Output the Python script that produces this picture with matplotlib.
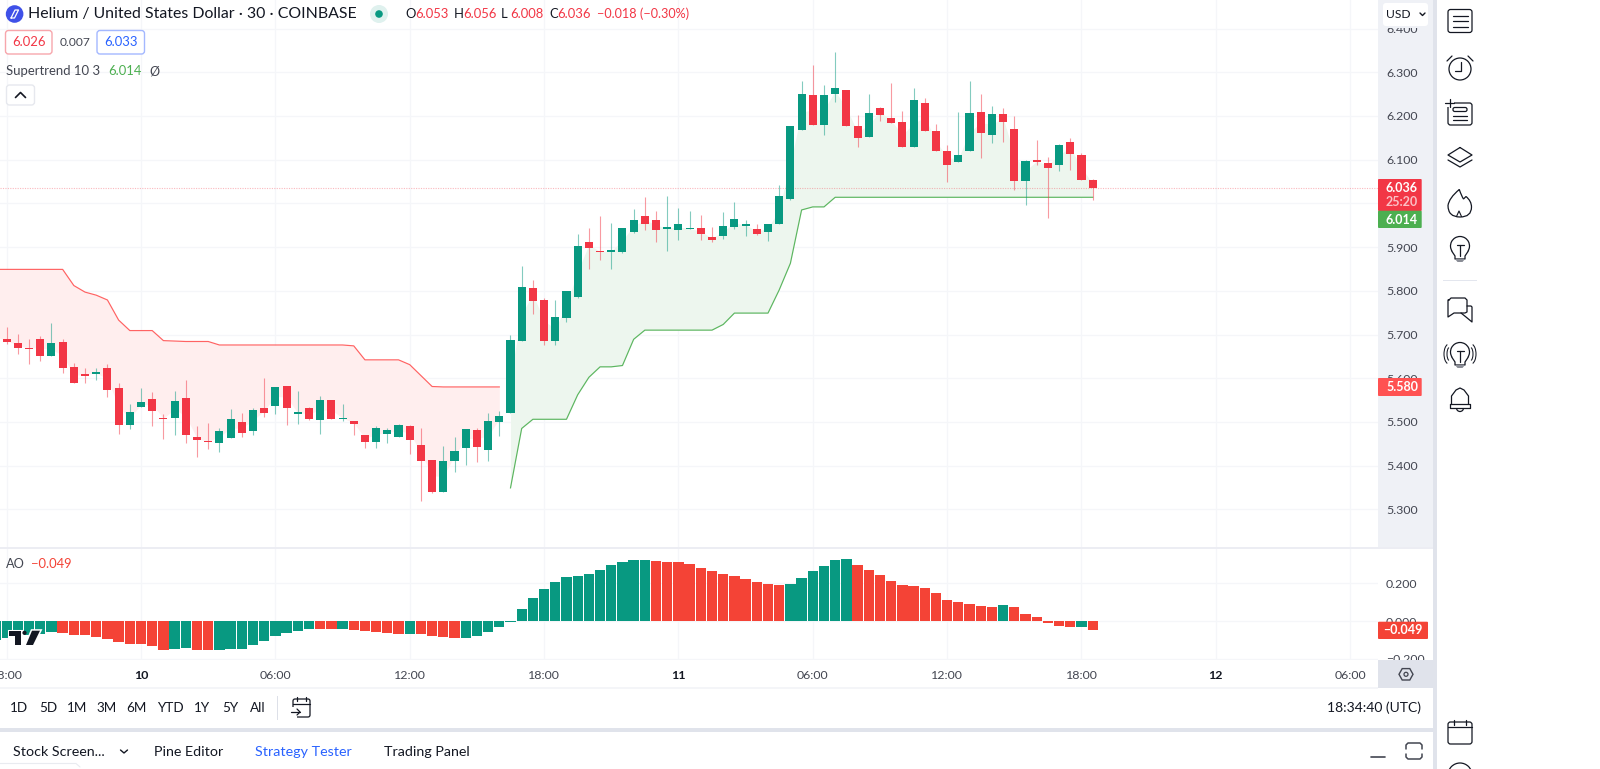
import numpy as np
import matplotlib
matplotlib.use("Agg")
import matplotlib.pyplot as plt
from matplotlib.patches import Rectangle, FancyBboxPatch, Circle, Polygon, Arc, PathPatch
from matplotlib.path import Path

plt.rcParams['font.family'] = ['Lato', 'DejaVu Sans']

# ---------- data (30-minute candles; the first candle lies just off the left edge) ----------
opens = [5.700,
         5.689,5.681,5.670,5.689,5.650,5.682,5.626,5.610,5.610,5.623,5.577,5.493,5.534,5.552,5.510,5.510,5.555,5.466,5.456,5.452,
         5.463,5.499,5.479,5.532,5.536,5.583,5.519,5.531,5.504,5.549,5.507,5.501,5.470,5.455,5.472,5.465,5.491,5.448,5.413,5.340,
         5.411,5.441,5.481,5.435,5.500,5.520,5.685,5.807,5.779,5.684,5.738,5.786,5.912,5.891,5.889,5.888,5.934,5.971,5.962,5.942,
         5.939,5.941,5.943,5.923,5.925,5.946,5.949,5.942,5.934,5.954,6.009,6.167,6.249,6.180,6.250,6.260,6.177,6.151,6.218,6.195,
         6.186,6.129,6.229,6.166,6.120,6.094,6.120,6.209,6.157,6.205,6.170,6.051,6.099,6.093,6.089,6.140,6.111,6.053]
highs = [5.710,
         5.718,5.701,5.689,5.697,5.726,5.689,5.634,5.623,5.623,5.632,5.590,5.540,5.578,5.568,5.518,5.571,5.597,5.491,5.497,5.485,
         5.529,5.521,5.531,5.601,5.580,5.583,5.571,5.535,5.559,5.550,5.541,5.502,5.471,5.491,5.485,5.495,5.492,5.485,5.413,5.445,
         5.466,5.484,5.485,5.521,5.525,5.700,5.857,5.825,5.783,5.780,5.799,5.930,5.943,5.972,5.956,5.943,5.988,6.014,5.982,6.018,
         5.989,5.983,5.973,5.947,5.980,6.004,5.962,5.954,5.954,6.041,6.176,6.280,6.317,6.272,6.346,6.260,6.202,6.250,6.221,6.275,
         6.211,6.264,6.242,6.182,6.134,6.210,6.280,6.250,6.222,6.218,6.199,6.099,6.145,6.107,6.135,6.149,6.116,6.056]
lows = [5.685,
        5.678,5.655,5.632,5.639,5.650,5.611,5.588,5.590,5.597,5.558,5.472,5.484,5.534,5.491,5.461,5.469,5.452,5.420,5.438,5.432,
        5.463,5.466,5.470,5.511,5.517,5.493,5.496,5.504,5.473,5.506,5.502,5.470,5.441,5.441,5.452,5.465,5.426,5.318,5.337,5.340,
        5.386,5.401,5.408,5.411,5.468,5.520,5.685,5.748,5.677,5.676,5.729,5.784,5.851,5.870,5.851,5.886,5.933,5.939,5.912,5.891,
        5.916,5.941,5.916,5.912,5.919,5.941,5.925,5.928,5.915,5.954,6.008,6.167,6.180,6.157,6.231,6.176,6.128,6.151,6.189,6.184,
        6.128,6.129,6.166,6.120,6.049,6.094,6.120,6.105,6.138,6.141,6.031,5.997,6.087,5.967,6.073,6.076,6.054,6.008]
closes = [5.690,
          5.683,5.670,5.667,5.651,5.681,5.623,5.588,5.606,5.615,5.572,5.493,5.523,5.546,5.526,5.507,5.548,5.471,5.459,5.455,5.480,
          5.507,5.474,5.527,5.520,5.580,5.531,5.522,5.507,5.550,5.506,5.510,5.495,5.455,5.487,5.481,5.494,5.459,5.411,5.340,5.411,
          5.433,5.484,5.442,5.501,5.513,5.688,5.809,5.777,5.685,5.740,5.799,5.902,5.899,5.889,5.893,5.943,5.963,5.954,5.939,5.945,
          5.953,5.944,5.930,5.917,5.948,5.964,5.953,5.930,5.954,6.017,6.176,6.250,6.180,6.249,6.264,6.176,6.150,6.208,6.203,6.184,
          6.128,6.236,6.166,6.120,6.089,6.111,6.206,6.160,6.205,6.186,6.051,6.098,6.094,6.082,6.134,6.114,6.054,6.036]
st_down = [5.849,
           5.849,5.849,5.849,5.849,5.849,5.849,5.812,5.797,5.790,5.779,5.733,5.709,5.709,5.709,5.686,5.685,5.684,5.684,5.684,5.676,
           5.676,5.676,5.676,5.676,5.676,5.676,5.676,5.676,5.676,5.676,5.676,5.674,5.642,5.642,5.642,5.642,5.631,5.606,5.581,5.580,
           5.580,5.580,5.580,5.580,5.580]
st_up = [5.349,5.485,5.506,5.506,5.506,5.506,5.562,5.602,5.626,5.626,5.629,5.689,5.710,5.710,5.710,5.710,5.710,5.710,5.710,5.723,
         5.749,5.749,5.749,5.749,5.802,5.863,5.985,5.992,5.992,6.014,6.014,6.014,6.014,6.014,6.014,6.014,6.014,6.014,6.014,6.014,
         6.014,6.014,6.014,6.014,6.014,6.014,6.014,6.014,6.014,6.014,6.014,6.014,6.014]
ao = [-.100,
      -.092,-.083,-.074,-.071,-.058,-.064,-.074,-.076,-.085,-.096,-.110,-.122,-.124,-.133,-.152,-.150,-.142,-.152,-.154,-.152,
      -.150,-.147,-.127,-.104,-.080,-.065,-.051,-.042,-.042,-.042,-.042,-.050,-.055,-.058,-.065,-.067,-.067,-.071,-.080,-.087,
      -.092,-.092,-.078,-.057,-.032,-.004,.064,.124,.170,.209,.234,.239,.248,.273,.297,.315,.322,.324,.319,.313,
      .312,.301,.280,.264,.250,.237,.223,.205,.195,.189,.195,.228,.264,.294,.326,.331,.297,.269,.242,.214,
      .193,.186,.173,.147,.110,.099,.090,.078,.076,.085,.073,.039,.023,-.011,-.028,-.034,-.032,-.049]
ao_rising = [1,
             1,1,1,1,1,0,0,0,0,0,0,0,0,0,0,1,1,0,0,1,
             1,1,1,1,1,1,1,1,0,0,1,0,0,0,0,0,1,0,0,0,
             0,1,1,1,1,1,1,1,1,1,1,1,1,1,1,1,1,1,0,0,
             0,0,0,0,0,0,0,0,0,0,1,1,1,1,1,1,0,0,0,0,
             0,0,0,0,0,0,0,0,0,1,0,0,0,0,0,0,1,0]
price_ticks = [5.3,5.4,5.5,5.6,5.7,5.8,5.9,6.0,6.1,6.2,6.3,6.4]
ao_ticks = [-0.2,0.0,0.2]
time_pos = [0,12,24,36,48,60,72,84,96,108,120]
time_labels = ['18:00','10','06:00','12:00','18:00','11','06:00','12:00','18:00','12','06:00']
day_labels = ['10','11','12']
last_close = closes[-1]

# ---------- colours ----------
TEAL, RED, AORED = '#089981', '#F23645', '#F44336'
GRID, STRIP, BAND, INK, SOFT = '#F5F6F9', '#EFF1F6', '#E0E3EB', '#131722', '#434651'
FILLR, FILLG = '#FFEEEE', '#EDF6EE'

W, H = 1600, 769
fig = plt.figure(figsize=(W/100, H/100), dpi=100, facecolor='white')

def axpx(x0, y0, x1, y1, **kw):
    return fig.add_axes([x0/W, 1-y1/H, (x1-x0)/W, (y1-y0)/H], **kw)

STEP, X0 = 11.196, 6.67
PANE_R = 1378
xlim = (-X0/STEP, (PANE_R-X0)/STEP)

bg = axpx(0, 0, W, H, zorder=0); bg.set_xlim(0, W); bg.set_ylim(H, 0); bg.axis('off')
bg.add_patch(Rectangle((PANE_R, 0), 55, 547, fc=STRIP, ec='none'))

# ---------- main pane ----------
ax = axpx(0, 0, PANE_R, 547, zorder=1)
ax.patch.set_alpha(0)
ax.set_xlim(*xlim)
ax.set_ylim(6.3-(547-72.3)/437, 6.3+72.3/437)
idx = np.arange(len(opens)) - 1
o, h, l, c = map(np.array, (opens, highs, lows, closes))
mid = (o+c)/2
n_down = len(st_down)
ax.fill_between(idx[:n_down], st_down, mid[:n_down], color=FILLR, lw=0, zorder=1)
ax.fill_between(idx[n_down:], st_up, mid[n_down:], color=FILLG, lw=0, zorder=1)
ax.plot(idx[:n_down], st_down, color='#FF5252', lw=0.85, zorder=2, alpha=.9)
ax.plot(idx[n_down:], st_up, color='#4CAF50', lw=0.85, zorder=2, alpha=.9)
up = c >= o
cols = np.where(up, TEAL, RED)
ax.vlines(idx, l, h, colors=cols, lw=0.8, alpha=.5, zorder=3)
ax.bar(idx, np.abs(c-o), bottom=np.minimum(o, c), width=.72, color=cols, lw=0, zorder=4)
ax.axhline(last_close, color=RED, lw=.8, ls=(0, (1, 1.2)), alpha=.35, zorder=2)
ax.set_yticks(price_ticks, [f'{t:.3f}' for t in price_ticks])
ax.yaxis.tick_right()
ax.tick_params(axis='y', length=0, pad=5.8, labelsize=8.9, labelcolor=SOFT)
ax.set_xticks(time_pos)
ax.tick_params(axis='x', length=0, labelbottom=False)
ax.grid(True, color=GRID, lw=.9, zorder=0)
ax.set_axisbelow(True)
for s in ax.spines.values():
    s.set_visible(False)

# ---------- AO pane ----------
ax2 = axpx(0, 549, PANE_R, 660, zorder=1)
ax2.patch.set_alpha(0)
ax2.set_xlim(*xlim)
ax2.set_ylim(-(660-621)/188.3, (621-549)/188.3)
ao_cols = [TEAL if r else AORED for r in ao_rising]
ax2.bar(idx, ao, width=.92, color=ao_cols, lw=0, zorder=3)
ax2.set_yticks(ao_ticks, ['\u22120.200', '0.000', '0.200'])
ax2.yaxis.tick_right()
ax2.tick_params(axis='y', length=0, pad=5.8, labelsize=8.9, labelcolor=SOFT)
ax2.set_xticks(time_pos)
ax2.tick_params(axis='x', length=0, labelbottom=False)
ax2.grid(True, color=GRID, lw=.9, zorder=0)
ax2.set_axisbelow(True)
for s in ax2.spines.values():
    s.set_visible(False)

# ---------- time axis ----------
axt = axpx(0, 660, PANE_R, 688, zorder=3)
axt.set_xlim(*xlim); axt.set_ylim(0, 1); axt.set_yticks([])
axt.set_xticks(time_pos, time_labels)
axt.tick_params(axis='x', length=0, pad=-13, labelsize=8.9, labelcolor=SOFT)
for lab in axt.get_xticklabels():
    if lab.get_text() in day_labels:
        lab.set_fontweight('bold'); lab.set_color(INK)
for s in axt.spines.values():
    s.set_visible(False)

# ---------- interface chrome (pixel coordinates) ----------
ui = axpx(0, 0, W, H, zorder=4); ui.set_xlim(0, W); ui.set_ylim(H, 0); ui.axis('off')

def T(x, y, s, px=13, col=INK, ha='left', weight='normal', alpha=None):
    return ui.text(x, y, s, fontsize=px*.72, color=col, ha=ha, va='center', fontweight=weight, alpha=alpha)
def R(x0, y0, x1, y1, col, z=1):
    ui.add_patch(Rectangle((x0, y0), x1-x0, y1-y0, fc=col, ec='none', zorder=z))
def RR(x0, y0, x1, y1, fc='white', ec='none', r=3, lw=1, z=1):
    ui.add_patch(FancyBboxPatch((x0+r, y0+r), x1-x0-2*r, y1-y0-2*r, boxstyle=f'round,pad={r},rounding_size={r}',
                                fc=fc, ec=ec, lw=lw, zorder=z))
def L(xs, ys, col=INK, lw=.9, z=3):
    ui.plot(xs, ys, color=col, lw=lw, zorder=z, solid_capstyle='round', solid_joinstyle='round')

# bands
R(0, 547, 1433, 549, '#ECEDF3')
R(1433, 0, 1437, H, BAND)
R(1378, 660, 1433, 688, BAND)
R(0, 688, 1433, 727, 'white')
R(0, 727.5, 1437, 731.5, BAND)
R(0, 731.5, 1433, H, 'white')
R(0, 687, 1378, 688.5, '#F4F5F8')

# header
ui.add_patch(Circle((14.6, 14), 8.8, fc='#3F51E8', ec='none', zorder=3))
L([11, 15, 18.5, 14.5, 11], [18, 10, 10, 18, 18], 'white', .9, 4)
T(28, 14, 'Helium / United States Dollar \u00b7 30 \u00b7 COINBASE', 15.85, INK)
ui.add_patch(Circle((379, 14), 9, fc='#DFF1EE', ec='none', zorder=3))
ui.add_patch(Circle((379, 14), 3.8, fc=TEAL, ec='none', zorder=4))
for x, s in [(405.5, 'O'), (453.5, 'H'), (501, 'L'), (549, 'C')]:
    T(x, 14, s, 13, INK)
for x, s in [(415, '6.053'), (463, '6.056'), (510, '6.008'), (557, '6.036')]:
    T(x, 14, s, 13, RED)
T(597, 14, '\u22120.018 (\u22120.30%)', 12.6, RED)
RR(5.5, 30.5, 52, 54, 'white', '#F7A6AC', 3, 1)
T(28.8, 42.5, '6.026', 13, RED, 'center')
T(75, 42.5, '0.007', 12, SOFT, 'center')
RR(97, 30.5, 144.5, 54, 'white', '#A4B8FF', 3, 1)
T(120.8, 42.5, '6.033', 13, '#2962FF', 'center')
T(6, 71, 'Supertrend 10 3', 13.1, SOFT)
T(108, 71, '6.014', 13, '#4CAF50')
T(149, 71, '\u00d8', 12.5, SOFT)
RR(6.5, 85, 34.5, 105, 'white', '#E6E8EE', 3, 1)
L([15.5, 20.5, 25.5], [97.5, 92.5, 97.5], INK, 1.2)
T(6, 564, 'AO', 12.8, SOFT)
T(31, 564, '\u22120.049', 13, AORED)

# USD button and last-value labels
R(1378, 0, 1433, 28, STRIP)
RR(1383, 3, 1428, 26, 'white', 'none', 3)
T(1386, 14.5, 'USD', 12, INK)
L([1420, 1422.5, 1425], [13, 15.5, 13], INK, 1)
RR(1378, 179, 1421.7, 211, RED, 'none', 1)
T(1402, 188, '6.036', 12.5, 'white', 'center', 'bold')
T(1402, 202.5, '25:20', 12.5, '#FBC0C5', 'center', 'bold')
RR(1378, 210.7, 1421.7, 228, '#4CAF50', 'none', 1)
T(1402, 219.5, '6.014', 12.5, 'white', 'center', 'bold')
RR(1378, 378, 1421.7, 396, '#FF5252', 'none', 1)
T(1402, 387, '5.580', 12.5, 'white', 'center', 'bold')
RR(1378, 621.7, 1428, 639, AORED, 'none', 1)
T(1403, 630.5, '\u22120.049', 12.5, 'white', 'center', 'bold')

# TradingView mark
for pts in ([[9.3, 630.7], [20.7, 630.7], [20.7, 645], [15, 645], [15, 636], [9.3, 636]],
            [[32, 630.7], [40, 630.7], [33, 645], [26, 645]]):
    ui.add_patch(Polygon(pts, fc='white', ec='white', lw=2.2, zorder=5))
for pts in ([[9.3, 630.7], [20.7, 630.7], [20.7, 645], [15, 645], [15, 636], [9.3, 636]],
            [[32, 630.7], [40, 630.7], [33, 645], [26, 645]]):
    ui.add_patch(Polygon(pts, fc='#131722', ec='none', zorder=6))
ui.add_patch(Circle((24.5, 632.8), 2.1, fc='#131722', ec='none', zorder=6))

# gear
ui.add_patch(Polygon([[1399, 674.3], [1402.2, 668.6], [1409.8, 668.6], [1413, 674.3], [1409.8, 680], [1402.2, 680]],
                     fc='none', ec=SOFT, lw=1, zorder=3))
ui.add_patch(Circle((1406, 674.3), 2, fc='none', ec=SOFT, lw=.9, zorder=3))

# range bar
for x, s in zip([19, 48, 77, 107, 136, 170, 202, 230, 258], ['1D', '5D', '1M', '3M', '6M', 'YTD', '1Y', '5Y', 'All']):
    T(x, 708.5, s, 13.5, INK, 'center')
R(277, 696, 278, 720, '#DDE0E8')
RR(293, 699, 310, 717, 'none', INK, 2, .9)
L([293, 310], [704, 704]); L([297, 297], [697, 701]); L([306, 306], [697, 701])
R(290, 707, 296.5, 719, 'white', 3.5)
L([291, 300], [712, 712], INK, .9, 4); L([297, 300, 297], [709, 712, 715], INK, .9, 4)
T(1327, 708, '18:34:40 (UTC)', 13.9, INK)

# bottom tabs
T(13, 752, 'Stock Screen...', 14.2, INK)
L([120.5, 124, 127.5], [750, 753, 750], INK, 1)
T(154, 752, 'Pine Editor', 14.2, INK)
T(255, 752, 'Strategy Tester', 14.2, '#2962FF')
T(384, 752, 'Trading Panel', 14.2, INK)
L([1371, 1385], [757, 757], SOFT, 1.2)
L([1406, 1406, 1408, 1420, 1422, 1422], [749, 745, 743, 743, 745, 749], SOFT, 1.1)
L([1406, 1406, 1408, 1420, 1422, 1422], [754, 757, 759, 759, 757, 754], SOFT, 1.1)
L([0, 76, 80], [763.5, 763.5, 767], '#E9EBF0', .8)

# sidebar icons
cx = 1460
RR(cx-12, 9.5, cx+12, 32.5, 'none', INK, 2.5, .9)
for d in (-5.5, 0, 5.5):
    L([cx-7.5, cx+7.5], [21+d, 21+d])
# alarm
ui.add_patch(Circle((cx, 69), 11, fc='none', ec=INK, lw=.9, zorder=3))
L([cx+.5, cx+.5, cx-5], [62, 71, 71]); L([cx-13, cx-8], [61, 56]); L([cx+8, cx+13], [56, 61])
# add list
RR(cx-12, 103, cx+12, 125, 'none', INK, 2.5, .9)
R(cx-15, 98, cx-6, 107, 'white', 2.5)
L([cx-15, cx-6], [103, 103]); L([cx-10.5, cx-10.5], [99, 107])
RR(cx-7, 107.5, cx+7, 111.5, 'none', INK, 1.8, .9)
L([cx-7, cx+7], [115.5, 115.5]); L([cx-7, cx+7], [120, 120])
# layers
L([cx, cx+12, cx, cx-12, cx], [147.5, 155, 162, 155, 147.5])
L([cx-12, cx, cx+12], [160, 167, 160])
# flame
flame = Path([(1459.3, 189.5), (1461.5, 196), (1463.5, 199), (1466, 196.5), (1471.5, 201), (1471.5, 207),
              (1471.5, 217), (1460, 217), (1448, 217), (1448, 205.5), (1449, 198), (1459.3, 189.5)],
             [Path.MOVETO, Path.CURVE3, Path.CURVE3, Path.LINETO, Path.CURVE3, Path.CURVE3,
              Path.CURVE3, Path.CURVE3, Path.CURVE3, Path.CURVE3, Path.CURVE3, Path.CURVE3])
ui.add_patch(PathPatch(flame, fc='none', ec=INK, lw=.9, zorder=3))
L([1456.5, 1459, 1461.5], [216.5, 211, 216.5], INK, .8)
def bulb(y):
    ui.add_patch(Arc((cx, y-2), 19, 19, theta1=145, theta2=395, ec=INK, lw=.9, zorder=3))
    L([cx-8, cx-5, cx-5, cx+5, cx+5, cx+8], [y+3.5, y+8, y+11, y+11, y+8, y+3.5])
    L([cx-3.5, cx+3.5], [y-3.5, y-3.5]); L([cx, cx], [y-3.5, y+8])
    ui.add_patch(Polygon([[cx-5, y+11], [cx+5, y+11], [cx+2.5, y+14], [cx-2.5, y+14]], fc='#8A8D96', ec='none', zorder=3))
bulb(248)
R(cx-17, 279.8, cx+17, 280.8, '#E3E6EE')
# chat
L([cx-11, cx-9, cx+5, cx+7, cx+7, cx+5, cx-6, cx-12, cx-12, cx-11], [300, 298, 298, 300, 312, 313, 313, 317, 300, 300])
L([cx+7, cx+11, cx+12, cx+12, cx+6, cx+1], [306, 306, 307, 322, 317, 313])
bulb(354)
for sgn in (-1, 1):
    a, b = (100, 260) if sgn < 0 else (-80, 80)
    ui.add_patch(Arc((cx+sgn*10, 354), 6, 14, theta1=a, theta2=b, ec=INK, lw=.75, zorder=3))
    ui.add_patch(Arc((cx+sgn*11, 354), 10, 20, theta1=a, theta2=b, ec=INK, lw=.75, zorder=3))
# bell
L([cx-8.5, cx-8.5, cx-4, cx, cx+4, cx+8.5, cx+8.5], [404, 396, 390, 388, 390, 396, 404])
L([cx-10, cx-10, cx+10, cx+10, cx-10], [404, 407.5, 407.5, 404, 404])
ui.add_patch(Arc((cx, 408), 7, 7, theta1=0, theta2=180, ec=INK, lw=.9, zorder=3))
# calendar
RR(cx-12, 722, cx+12, 744, 'none', INK, 2.5, .9)
L([cx-12, cx+12], [727, 727]); L([cx-6, cx-6], [720, 725]); L([cx+6, cx+6], [720, 725])
ui.add_patch(Circle((cx, 775), 12, fc='none', ec=INK, lw=.9, zorder=3))

fig.savefig('out.png', dpi=100, facecolor='white')
